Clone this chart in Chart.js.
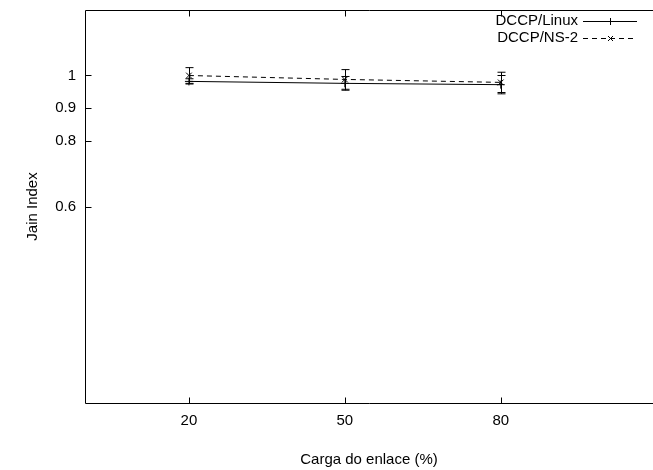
<!DOCTYPE html>
<html>
<head>
<meta charset="utf-8">
<script src="https://cdn.jsdelivr.net/npm/chart.js@4"></script>
<style>
    html, body { margin: 0; padding: 0; background: #fff; overflow: hidden; }
    #wrap { width: 653px; height: 470px; }
</style>
</head>
<body>
<div id="wrap"><canvas id="chart"></canvas></div>
<script>
// Link load values (%) and Jain index measured for each implementation
const loads = [20, 50, 80];
const linuxIndex = [0.982, 0.976, 0.972];
const linuxErr = [0.008, 0.021, 0.028];
const ns2Index = [1.0, 0.988, 0.979];
const ns2Err = [0.024, 0.03, 0.031];
const xTicks = [20, 50, 80];
const yTicks = [0.6, 0.8, 0.9, 1];
const seriesNames = ['DCCP/Linux', 'DCCP/NS-2'];

const FONT = '"Liberation Sans", Arial, sans-serif';
const FONT_SIZE = 15;

function toPoints(values) {
    return loads.map((x, i) => ({ x: x, y: values[i] }));
}

// Error bars, frame with inner ticks and gnuplot style key
// (the right side of the frame lies just outside the picture)
const gnuplotBits = {
    id: 'gnuplotBits',
    afterDatasetsDraw(chart) {
        const ctx = chart.ctx;
        const xs = chart.scales.x;
        const ys = chart.scales.y;
        const errs = [linuxErr, ns2Err];
        ctx.save();
        ctx.strokeStyle = '#000';
        ctx.lineWidth = 1;
        chart.data.datasets.forEach((ds, d) => {
            ds.data.forEach((p, i) => {
                const px = Math.round(xs.getPixelForValue(p.x)) + 0.5;
                const top = ys.getPixelForValue(p.y + errs[d][i]);
                const bot = ys.getPixelForValue(p.y - errs[d][i]);
                ctx.beginPath();
                ctx.moveTo(px, top);
                ctx.lineTo(px, bot);
                ctx.moveTo(px - 4, top);
                ctx.lineTo(px + 4, top);
                ctx.moveTo(px - 4, bot);
                ctx.lineTo(px + 4, bot);
                ctx.stroke();
            });
        });
        ctx.restore();
    },
    afterDraw(chart) {
        const ctx = chart.ctx;
        const a = chart.chartArea;
        const xs = chart.scales.x;
        const ys = chart.scales.y;
        ctx.save();
        ctx.strokeStyle = '#000';
        ctx.lineWidth = 1;
        const l = Math.round(a.left) + 0.5, r = chart.width;
        const t = Math.round(a.top) + 0.5, b = Math.round(a.bottom) + 0.5;
        ctx.beginPath();
        ctx.moveTo(r, t); ctx.lineTo(l, t); ctx.lineTo(l, b); ctx.lineTo(r, b);
        xTicks.forEach(v => {
            const px = Math.round(xs.getPixelForValue(v)) + 0.5;
            ctx.moveTo(px, b); ctx.lineTo(px, b - 6);
            ctx.moveTo(px, t); ctx.lineTo(px, t + 6);
        });
        yTicks.forEach(v => {
            const py = Math.round(ys.getPixelForValue(v)) + 0.5;
            ctx.moveTo(l, py); ctx.lineTo(l + 6, py);
        });
        ctx.stroke();

        // key
        ctx.font = FONT_SIZE + 'px ' + FONT;
        ctx.fillStyle = '#000';
        ctx.textAlign = 'right';
        ctx.textBaseline = 'middle';
        const rows = [21, 38];
        chart.data.datasets.forEach((ds, d) => {
            const y = rows[d] + 0.5;
            ctx.fillText(seriesNames[d], 578, rows[d]);
            ctx.setLineDash(ds.borderDash || []);
            ctx.beginPath();
            ctx.moveTo(583, y);
            ctx.lineTo(637, y);
            ctx.stroke();
            ctx.setLineDash([]);
            ctx.beginPath();
            if (d === 0) {
                ctx.moveTo(607, y); ctx.lineTo(614, y);
                ctx.moveTo(610.5, y - 3.5); ctx.lineTo(610.5, y + 3.5);
            } else {
                ctx.moveTo(608, y - 2.5); ctx.lineTo(613, y + 2.5);
                ctx.moveTo(608, y + 2.5); ctx.lineTo(613, y - 2.5);
            }
            ctx.stroke();
        });
        ctx.restore();
    }
};

const chart = new Chart(document.getElementById('chart'), {
    type: 'line',
    data: {
        datasets: [
            {
                label: seriesNames[0],
                data: toPoints(linuxIndex),
                borderColor: '#000',
                backgroundColor: '#000',
                borderWidth: 1,
                pointStyle: 'cross',
                pointRadius: 4,
                pointBorderWidth: 1,
                tension: 0
            },
            {
                label: seriesNames[1],
                data: toPoints(ns2Index),
                borderColor: '#000',
                backgroundColor: '#000',
                borderWidth: 1,
                borderDash: [5, 4],
                pointStyle: 'crossRot',
                pointRadius: 4,
                pointBorderWidth: 1,
                tension: 0
            }
        ]
    },
    options: {
        responsive: true,
        maintainAspectRatio: false,
        animation: false,
        layout: { autoPadding: false, padding: { top: 10, right: 0, left: 0, bottom: 0 } },
        plugins: {
            legend: { display: false },
            tooltip: { enabled: false }
        },
        scales: {
            x: {
                type: 'linear',
                min: 0,
                max: 109.3,
                grid: { display: false, drawTicks: false },
                border: { display: false },
                afterBuildTicks: s => { s.ticks = xTicks.map(v => ({ value: v })); },
                afterFit: s => { s.height = 67; s.paddingLeft = 0; s.paddingRight = 0; },
                ticks: {
                    color: '#000',
                    padding: 9,
                    callback: v => String(v),
                    font: { family: FONT, size: FONT_SIZE }
                },
                title: {
                    display: true,
                    text: 'Carga do enlace (%)',
                    color: '#000',
                    padding: { top: 0, bottom: 1 },
                    font: { family: FONT, size: FONT_SIZE }
                }
            },
            y: {
                min: 0,
                max: 1.2,
                grid: { display: false, drawTicks: false },
                border: { display: false },
                afterBuildTicks: s => { s.ticks = yTicks.map(v => ({ value: v })); },
                afterFit: s => { s.width = 85; s.paddingTop = 0; s.paddingBottom = 0; },
                ticks: {
                    color: '#000',
                    padding: 9,
                    callback: v => String(v),
                    font: { family: FONT, size: FONT_SIZE }
                },
                title: {
                    display: true,
                    text: 'Jain Index',
                    color: '#000',
                    padding: { top: 24, bottom: 0 },
                    font: { family: FONT, size: FONT_SIZE }
                }
            }
        }
    },
    plugins: [gnuplotBits]
});
</script>
</body>
</html>
